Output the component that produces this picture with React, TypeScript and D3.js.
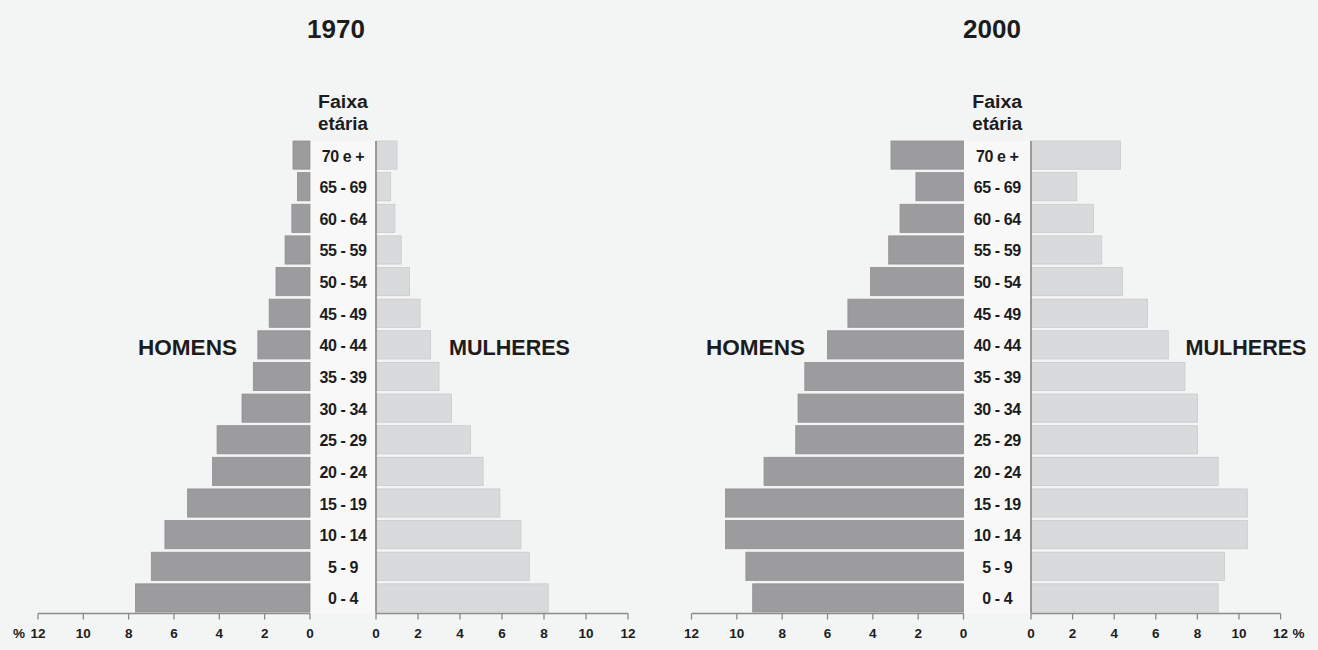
import React from "react";
import * as d3 from "d3";

const ageGroups = ["70 e +", "65 - 69", "60 - 64", "55 - 59", "50 - 54", "45 - 49", "40 - 44", "35 - 39", "30 - 34", "25 - 29", "20 - 24", "15 - 19", "10 - 14", "5 - 9", "0 - 4"];
const men1970 = [0.75, 0.55, 0.8, 1.1, 1.5, 1.8, 2.3, 2.5, 3.0, 4.1, 4.3, 5.4, 6.4, 7.0, 7.7];
const women1970 = [1.0, 0.7, 0.9, 1.2, 1.6, 2.1, 2.6, 3.0, 3.6, 4.5, 5.1, 5.9, 6.9, 7.3, 8.2];
const men2000 = [3.2, 2.1, 2.8, 3.3, 4.1, 5.1, 6.0, 7.0, 7.3, 7.4, 8.8, 10.5, 10.5, 9.6, 9.3];
const women2000 = [4.3, 2.2, 3.0, 3.4, 4.4, 5.6, 6.6, 7.4, 8.0, 8.0, 9.0, 10.4, 10.4, 9.3, 9.0];
const tickValues = [0, 2, 4, 6, 8, 10, 12];

const FONT = "'Liberation Sans', Arial, Helvetica, sans-serif";
const MALE = "#9c9c9e";
const MALE_STROKE = "#8f8f91";
const FEMALE = "#d9dadb";
const FEMALE_STROKE = "#c9cacb";
const TEXT = "#1c1c1c";
const AXIS = "#8a8a8a";

type PyrProps = {
  title: string;
  titleX: number;
  men: number[];
  women: number[];
  maleRange: [number, number];
  femaleRange: [number, number];
  homensX: number;
  mulheresX: number;
  pctSide: "left" | "right";
};

function Pyramid(p: PyrProps) {
  const xm = d3.scaleLinear().domain([0, 12]).range(p.maleRange);
  const xf = d3.scaleLinear().domain([0, 12]).range(p.femaleRange);
  const y = d3.scaleBand<string>().domain(ageGroups).range([141, 612]).paddingInner(0.11).paddingOuter(0);
  const cx = (xm(0) + xf(0)) / 2;
  const axisY = 613.5;
  return (
    <g fontFamily={FONT}>
      <text x={p.titleX} y={38} textAnchor="middle" fontSize={26} fontWeight="bold" fill={TEXT}>{p.title}</text>
      <text x={cx} y={108} textAnchor="middle" fontSize={18} fontWeight="bold" fill={TEXT} textLength={50} lengthAdjust="spacingAndGlyphs">Faixa</text>
      <text x={cx} y={130} textAnchor="middle" fontSize={18} fontWeight="bold" fill={TEXT} textLength={50} lengthAdjust="spacingAndGlyphs">etária</text>
      <rect x={xm(0)} y={141} width={xf(0) - xm(0)} height={axisY - 141} fill="#f8f8f8" />
      {ageGroups.map((a, i) => (
        <g key={a}>
          <rect x={xm(p.men[i])} y={y(a)} width={xm(0) - xm(p.men[i])} height={y.bandwidth()} fill={MALE} stroke={MALE_STROKE} strokeWidth={0.8} />
          <rect x={xf(0)} y={y(a)} width={xf(p.women[i]) - xf(0)} height={y.bandwidth()} fill={FEMALE} stroke={FEMALE_STROKE} strokeWidth={0.8} />
          <text x={cx} y={(y(a) as number) + y.bandwidth() / 2 + 1} dominantBaseline="central" textAnchor="middle" fontSize={16} fontWeight="bold" letterSpacing={-0.4} fill={TEXT}>{a}</text>
        </g>
      ))}
      <line x1={xf(0)} x2={xf(0)} y1={141} y2={axisY} stroke={AXIS} strokeWidth={1.6} />
      <text x={p.homensX} y={348} dominantBaseline="central" textAnchor="middle" fontSize={21.5} fontWeight="bold" fill={TEXT} textLength={99} lengthAdjust="spacingAndGlyphs">HOMENS</text>
      <text x={p.mulheresX} y={348} dominantBaseline="central" textAnchor="middle" fontSize={21.5} fontWeight="bold" fill={TEXT} textLength={121} lengthAdjust="spacingAndGlyphs">MULHERES</text>
      <line x1={xm(12)} x2={xm(0)} y1={axisY} y2={axisY} stroke={AXIS} strokeWidth={1.3} />
      {tickValues.map((t) => (
        <g key={"m" + t}>
          <line x1={xm(t)} x2={xm(t)} y1={axisY} y2={axisY + 6} stroke={AXIS} strokeWidth={1.3} />
          <text x={xm(t)} y={638} textAnchor="middle" fontSize={13.5} fontWeight="bold" fill={TEXT}>{t}</text>
        </g>
      ))}
      <line x1={xf(0)} x2={xf(12)} y1={axisY} y2={axisY} stroke={AXIS} strokeWidth={1.3} />
      {tickValues.map((t) => (
        <g key={"f" + t}>
          <line x1={xf(t)} x2={xf(t)} y1={axisY} y2={axisY + 6} stroke={AXIS} strokeWidth={1.3} />
          <text x={xf(t)} y={638} textAnchor="middle" fontSize={13.5} fontWeight="bold" fill={TEXT}>{t}</text>
        </g>
      ))}
      {p.pctSide === "left" ? (
        <text x={xm(12) - 13} y={638} textAnchor="end" fontSize={13.5} fontWeight="bold" fill={TEXT}>%</text>
      ) : (
        <text x={xf(12) + 12} y={638} textAnchor="start" fontSize={13.5} fontWeight="bold" fill={TEXT}>%</text>
      )}
    </g>
  );
}

export default function App() {
  return (
    <div style={{ position: "absolute", left: 0, top: 0, width: 1318, height: 650 }}>
      <svg width={1318} height={650} style={{ display: "block" }}>
        <rect x={0} y={0} width={1318} height={650} fill="#f3f4f4" />
        <Pyramid title="1970" titleX={336} men={men1970} women={women1970} maleRange={[310, 38]} femaleRange={[376, 628]} homensX={187.5} mulheresX={509.5} pctSide="left" />
        <Pyramid title="2000" titleX={992} men={men2000} women={women2000} maleRange={[963.5, 691.5]} femaleRange={[1031, 1280.6]} homensX={755.5} mulheresX={1246} pctSide="right" />
      </svg>
    </div>
  );
}
